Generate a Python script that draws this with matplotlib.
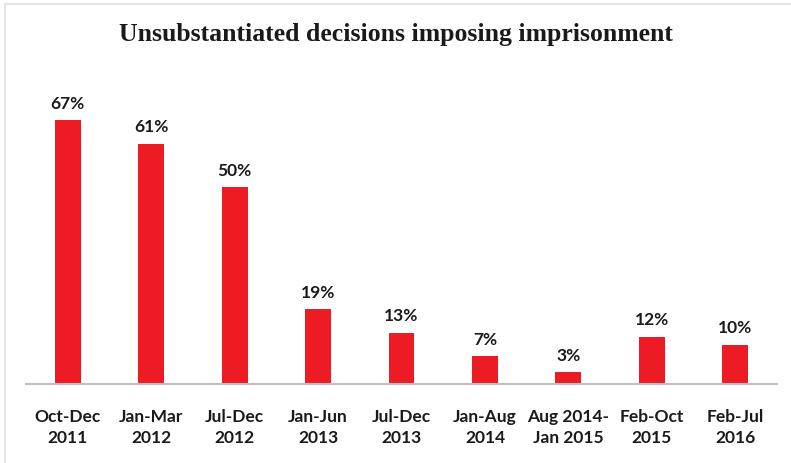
import matplotlib.pyplot as plt
from matplotlib.lines import Line2D

# Daten
labels = ["Oct-Dec\n2011", "Jan-Mar\n2012", "Jul-Dec\n2012", "Jan-Jun\n2013", "Jul-Dec\n2013",
          "Jan-Aug\n2014", "Aug 2014-\nJan 2015", "Feb-Oct\n2015", "Feb-Jul\n2016"]
values = [67, 61, 50, 19, 13, 7, 3, 12, 10]

fig = plt.figure(figsize=(7.91, 4.64), dpi=100)
ax = fig.add_axes([26 / 791, 1 - 385 / 464, 751 / 791, 315 / 464])

x = range(len(values))
ax.bar(x, values, width=0.31, color="#ED1C24")

for xi, v in zip(x, values):
    ax.text(xi, v + 2.4, f"{v}%", ha="center", va="bottom",
            fontsize=12.5, fontweight="bold", family="Lato", color="#1a1a1a")

ax.set_xlim(-0.5, len(values) - 0.5)
ax.set_ylim(0, 80)
ax.set_yticks([])
ax.set_xticks(list(x))
ax.set_xticklabels(labels, fontsize=12.5, fontweight="bold", family="Lato",
                   color="#1a1a1a", linespacing=1.4)
ax.tick_params(axis="x", length=0, pad=17)
for s in ["top", "right", "left"]:
    ax.spines[s].set_visible(False)
ax.spines["bottom"].set_color("#bfbfbf")
ax.spines["bottom"].set_linewidth(1.5)

fig.text(0.5, 1 - 34 / 464, "Unsubstantiated decisions imposing imprisonment",
         ha="center", va="center", fontsize=18.5, fontweight="bold",
         family="Liberation Serif", color="#1a1a1a")

# heller Rahmen oben/links
fig.add_artist(Line2D([5 / 791, 5 / 791], [0, 1 - 5 / 464], transform=fig.transFigure,
                      color="#e0e0e0", lw=1.2))
fig.add_artist(Line2D([5 / 791, 1], [1 - 5 / 464, 1 - 5 / 464], transform=fig.transFigure,
                      color="#e0e0e0", lw=1.2))

fig.savefig("out.png", dpi=100)
